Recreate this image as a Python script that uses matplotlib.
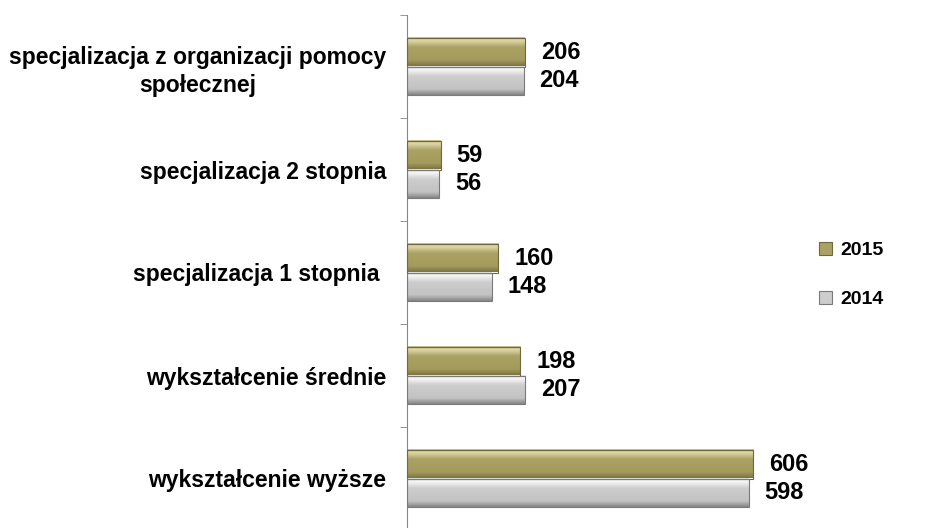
import numpy as np
import matplotlib.pyplot as plt
from matplotlib.colors import to_rgb
from matplotlib.patches import Patch

categories = ["wykształcenie wyższe", "wykształcenie średnie", "specjalizacja 1 stopnia ",
              "specjalizacja 2 stopnia", "specjalizacja z organizacji pomocy\nspołecznej"]
v2015 = [606, 198, 160, 59, 206]
v2014 = [598, 207, 148, 56, 204]

plt.rcParams['font.family'] = ['Liberation Sans', 'DejaVu Sans']
plt.rcParams['font.weight'] = 'bold'

gold = ['#c9c18c', '#ddd6a6', '#aaa164', '#a39a5c', '#7c7441']
grey = ['#e6e6e6', '#f6f6f6', '#cdcdcd', '#c2c2c2', '#858585']
stops = [0.0, 0.12, 0.35, 0.8, 1.0]


def gradient(cols, n=60):
    t = np.linspace(0, 1, n)
    rgb = np.array([to_rgb(c) for c in cols])
    out = np.stack([np.interp(t, stops, rgb[:, k]) for k in range(3)], axis=-1)
    return out[:, None, :]


fig = plt.figure(figsize=(9.26, 5.28), dpi=100)
ax = fig.add_axes([407/926, -2/528, 393/926, 515/528])

y = np.arange(len(categories))
h = 0.275
b15 = ax.barh(y + h/2, v2015, height=h, facecolor='none', edgecolor='#6f683a', lw=0.8, zorder=3)
b14 = ax.barh(y - h/2, v2014, height=h, facecolor='none', edgecolor='#7a7a7a', lw=0.8, zorder=3)

for bars, cols in [(b15, gold), (b14, grey)]:
    g = gradient(cols)
    for bar in bars:
        x0, y0 = bar.get_xy()
        ax.imshow(g, extent=[x0, x0 + bar.get_width(), y0, y0 + bar.get_height()],
                  aspect='auto', origin='upper', zorder=2, interpolation='bilinear')

for bars, vals in [(b15, v2015), (b14, v2014)]:
    for bar, v in zip(bars, vals):
        ax.annotate(str(v), (v, bar.get_y() + bar.get_height()/2), xytext=(16, 0),
                    textcoords='offset pixels', ha='left', va='center',
                    fontsize=17, fontweight='bold')

ax.set_xlim(0, 688)
ax.set_ylim(-0.5, 4.5)
ax.set_yticks(y)
ax.set_yticklabels(categories, fontsize=16.5, fontweight='bold', multialignment='center',
                   linespacing=1.3)
ax.set_yticks(np.arange(-0.5, 5, 1), minor=True)
ax.tick_params(axis='y', which='major', length=0, pad=15)
ax.tick_params(axis='y', which='minor', length=5, color='#868686', direction='out')
ax.tick_params(axis='x', bottom=False, labelbottom=False)
for s in ['top', 'right', 'bottom']:
    ax.spines[s].set_visible(False)
ax.spines['left'].set_color('#868686')

handles = [Patch(facecolor=gold[2], edgecolor='#6f683a', lw=0.8),
           Patch(facecolor=grey[2], edgecolor='#7a7a7a', lw=0.8)]
fig.legend(handles, ['2015', '2014'], loc='center left', bbox_to_anchor=(801/926, 1 - 275/528),
           frameon=False, handlelength=0.7, handleheight=0.7, labelspacing=1.6,
           handletextpad=0.4, prop={'size': 14, 'weight': 'bold'})

fig.savefig('out.png', dpi=100)
